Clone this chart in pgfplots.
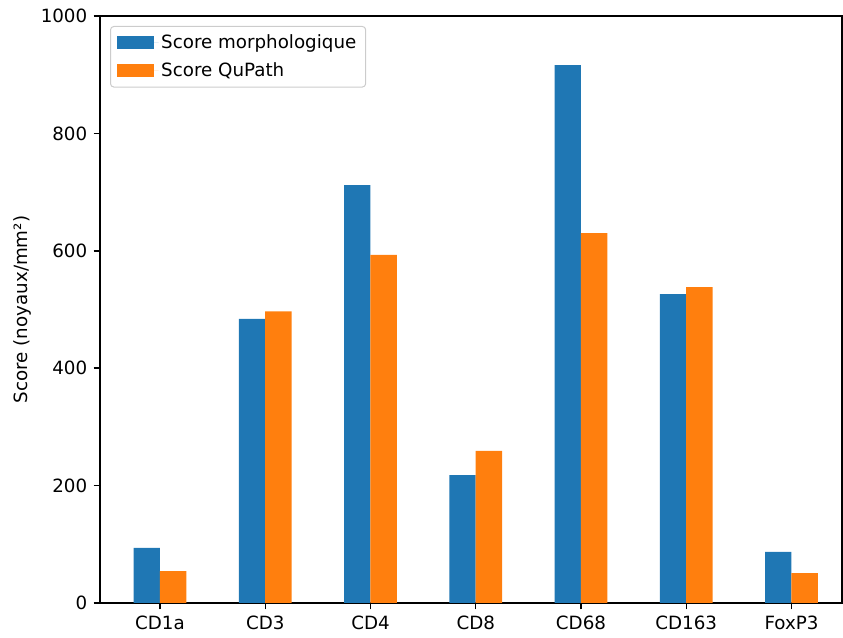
\documentclass[border=0pt]{standalone}
\usepackage{fontspec}
\setmainfont{DejaVu Sans}
\usepackage{pgfplots}
\pgfplotsset{compat=1.18}
\definecolor{mplblue}{HTML}{1F77B4}
\definecolor{mplorange}{HTML}{FF7F0E}
\definecolor{leggray}{HTML}{CCCCCC}
\begin{document}
\fontsize{13.7}{16}\selectfont
\begin{tikzpicture}
\begin{axis}[
  scale only axis, width=556.5pt, height=440.25pt,
  xmin=-0.57, xmax=6.48, ymin=0, ymax=1000,
  xtick={0,...,6}, xticklabels={CD1a,CD3,CD4,CD8,CD68,CD163,FoxP3},
  ytick={0,200,...,1000},
  axis line style={line width=1.1pt},
  every tick/.style={line width=1.1pt, black},
  major tick length=4.8pt, tick align=outside, tick pos=left,
  ybar, bar width=0.25,
  ylabel={Score (noyaux/mm²)},
  ylabel style={at={(axis description cs:-0.104,0.5)}, anchor=center},
  /pgf/number format/assume math mode=true,
  scaled y ticks=false, y tick label style={/pgf/number format/1000 sep={}},
  tick label style={font=\fontsize{13.7}{16}\selectfont},
  label style={font=\fontsize{13.7}{16}\selectfont},
  legend style={at={(0.0135,0.983)}, anchor=north west, draw=leggray, line width=0.75pt,
    rounded corners=2.5pt, font=\fontsize{13.7}{16}\selectfont, inner xsep=5pt, inner ysep=4pt,
    row sep=4.5pt},
  legend cell align=left,
  legend image code/.code={\fill[#1, sharp corners] (0pt,-4.8pt) rectangle (27.5pt,4.8pt);
    \path (0pt,0pt) -- (31pt,0pt);},
]
\addplot[fill=mplblue, draw=none, bar shift=-0.125] coordinates {(0,93.7) (1,484) (2,712) (3,218) (4,916.5) (5,526) (6,87)};
\addplot[fill=mplorange, draw=none, bar shift=0.125] coordinates {(0,54.5) (1,497) (2,593) (3,259) (4,630) (5,538) (6,51)};
\legend{Score morphologique, Score QuPath}
\end{axis}
\path ([xshift=-75pt,yshift=-26.25pt]current axis.south west) rectangle ([xshift=0.75pt,yshift=12pt]current axis.north east);
\end{tikzpicture}
\end{document}
